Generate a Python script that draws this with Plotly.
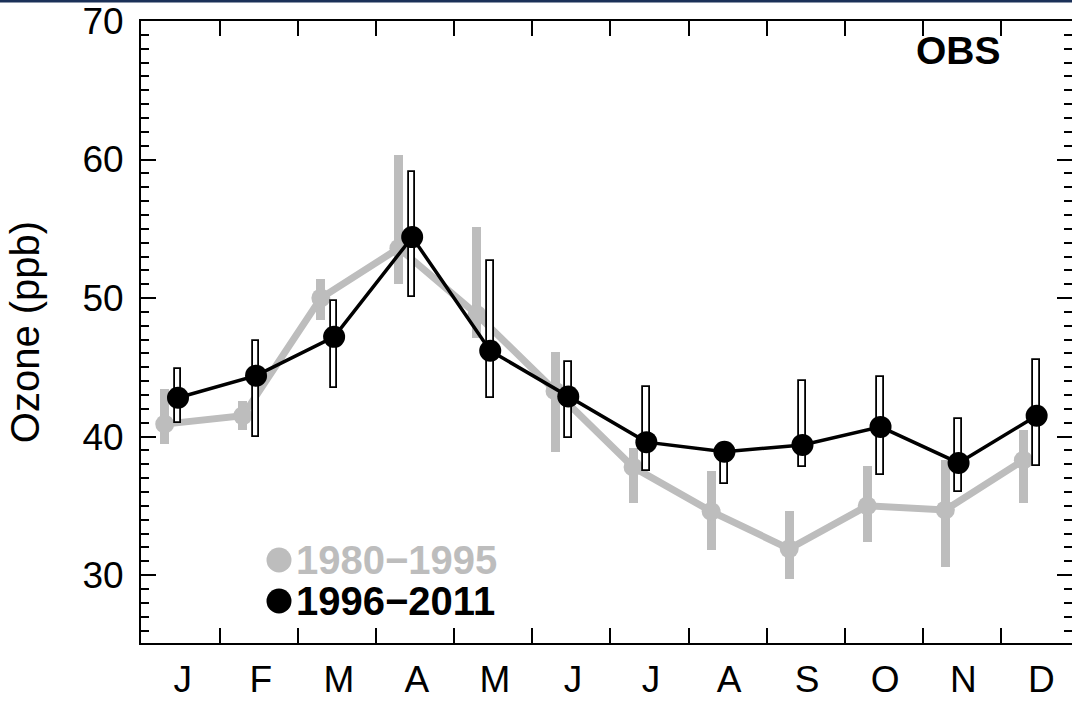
import plotly.graph_objects as go

# ---- data ----
months = ["J", "F", "M", "A", "M", "J", "J", "A", "S", "O", "N", "D"]
series_names = ["1980−1995", "1996−2011"]

early_mean = [40.9, 41.5, 50.0, 53.6, 48.8, 43.3, 37.8, 34.6, 31.9, 35.0, 34.7, 38.3]
early_low = [39.5, 40.5, 48.4, 51.0, 47.1, 38.9, 35.2, 31.8, 29.7, 32.4, 30.6, 35.2]
early_high = [43.4, 42.6, 51.4, 60.3, 55.1, 46.1, 39.2, 37.5, 34.6, 37.9, 38.3, 40.5]

late_mean = [42.8, 44.4, 47.2, 54.4, 46.2, 42.9, 39.6, 38.9, 39.4, 40.7, 38.1, 41.5]
late_low = [41.0, 40.0, 43.5, 50.1, 42.8, 39.9, 37.5, 36.6, 37.8, 37.2, 36.0, 37.9]
late_high = [44.9, 46.9, 49.8, 59.1, 52.7, 45.4, 43.6, 39.5, 44.0, 44.3, 41.3, 45.5]

y_ticks = [30, 40, 50, 60, 70]
y_title = "Ozone (ppb)"
panel_label = "OBS"

# ---- styling / layout constants ----
GRAY = "#bdbdbd"
FONT = "Liberation Sans, Arial, sans-serif"
EARLY_SHIFT = -0.17     # horizontal offset of the older period
LABEL_SHIFT = 0.06      # month labels slightly right of the newer period
TICK_SHIFT = 0.54       # separator ticks between months
X_RANGE = [-0.474, 11.453]
Y_RANGE = [25.1, 70.0]

W, H = 1072, 701
ML, MR, MT, MB = 141, 0, 21, 58
PH = H - MT - MB
PW = W - ML - MR

n = len(months)
x_late = list(range(n))
x_early = [i + EARLY_SHIFT for i in x_late]

fig = go.Figure()

# older period: filled gray bars + thick gray line (base subplot)
fig.add_trace(go.Bar(
    x=x_early, y=[h - l for h, l in zip(early_high, early_low)], base=early_low,
    width=0.115, marker=dict(color=GRAY, line=dict(width=0)),
    xaxis="x", yaxis="y", showlegend=False, hoverinfo="skip"))
fig.add_trace(go.Scatter(
    x=x_early, y=early_mean, mode="lines+markers",
    line=dict(color=GRAY, width=7), marker=dict(color=GRAY, size=19),
    xaxis="x", yaxis="y", showlegend=False, name=series_names[0]))

# newer period: open bars + black line (overlay subplot, drawn on top)
fig.add_trace(go.Bar(
    x=x_late, y=[h - l for h, l in zip(late_high, late_low)], base=late_low,
    width=0.085, marker=dict(color="white", line=dict(color="black", width=1.8)),
    xaxis="x2", yaxis="y2", showlegend=False, hoverinfo="skip"))
fig.add_trace(go.Scatter(
    x=x_late, y=late_mean, mode="lines+markers",
    line=dict(color="black", width=3.5), marker=dict(color="black", size=22),
    xaxis="x2", yaxis="y2", showlegend=False, name=series_names[1]))

tickfont = dict(family=FONT, size=37, color="black")

fig.update_layout(
    width=W, height=H,
    margin=dict(l=ML, r=MR, t=MT, b=MB, autoexpand=False),
    paper_bgcolor="white", plot_bgcolor="white",
    barmode="overlay", bargap=0,
    xaxis=dict(
        range=X_RANGE, showgrid=False, zeroline=False, automargin=False,
        tickvals=[i + LABEL_SHIFT for i in x_late], ticktext=months,
        ticks="", tickfont=tickfont, ticklabelstandoff=3,
        showline=True, linecolor="black", linewidth=2, mirror=True,
    ),
    xaxis2=dict(
        range=X_RANGE, overlaying="x", anchor="y2", showgrid=False, zeroline=False,
        automargin=False,
        tickvals=[i + TICK_SHIFT for i in x_late[:-1]], showticklabels=False,
        ticks="inside", ticklen=15, tickwidth=1.6, tickcolor="black",
        showline=False, mirror="ticks",
    ),
    yaxis=dict(
        range=Y_RANGE, showgrid=False, zeroline=False, automargin=False,
        tickvals=y_ticks, ticks="inside", ticklen=15, tickwidth=2, tickcolor="black",
        tickfont=tickfont, ticklabelstandoff=8,
        minor=dict(dtick=1, ticks="inside", ticklen=8, tickwidth=1.6, tickcolor="black"),
        showline=True, linecolor="black", linewidth=2, mirror=False,
        title=dict(text=y_title, font=dict(family=FONT, size=40, color="black"), standoff=30),
    ),
    yaxis2=dict(
        range=Y_RANGE, overlaying="y", anchor="x2", side="right", automargin=False,
        showgrid=False, zeroline=False, showticklabels=False,
        tickvals=y_ticks, ticks="inside", ticklen=15, tickwidth=2, tickcolor="black",
        minor=dict(dtick=1, ticks="inside", ticklen=8, tickwidth=1.6, tickcolor="black"),
        showline=False,
    ),
    showlegend=False,
)

def px_x(px):
    return (px - ML) / PW

def px_y(py):
    return (H - MB - py) / PH

# legend: circle symbols + coloured text
legend_rows = [(series_names[0], GRAY, 560), (series_names[1], "black", 601)]
for label, colour, cy in legend_rows:
    fig.add_shape(type="circle", xref="paper", yref="paper",
                  xsizemode="pixel", ysizemode="pixel",
                  xanchor=px_x(279), yanchor=px_y(cy),
                  x0=-12.5, x1=12.5, y0=-12.5, y1=12.5,
                  fillcolor=colour, line=dict(width=0), layer="above")
    fig.add_annotation(
        xref="paper", yref="paper", x=px_x(294), y=px_y(cy),
        xanchor="left", yanchor="middle",
        text=f"<b>{label}</b>", showarrow=False,
        font=dict(family=FONT, size=40, color=colour))

# panel label
fig.add_annotation(
    xref="paper", yref="paper", x=px_x(1003), y=px_y(51), xanchor="right", yanchor="middle",
    text=f"<b>{panel_label}</b>", showarrow=False,
    font=dict(family=FONT, size=39, color="black"))

# dark strip along the top edge of the picture
fig.add_shape(type="rect", xref="paper", yref="paper",
              x0=-0.2, x1=1.05, y0=px_y(2.4), y1=px_y(-3),
              fillcolor="#1b3158", line=dict(width=0), layer="above")

fig.write_html("out.html", config={"displayModeBar": False},
               post_script="document.body.style.margin='0px';")
